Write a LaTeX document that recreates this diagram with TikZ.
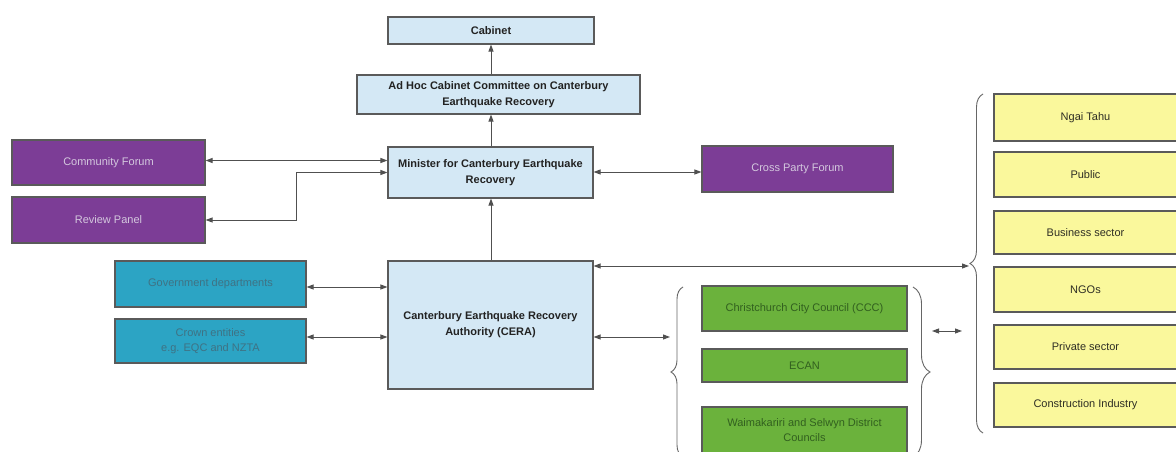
\documentclass[tikz,border=0pt]{standalone}
\usepackage{fontspec}
\setmainfont{Liberation Sans}
\usepackage{tikz}
\usepackage{xcolor}
\usetikzlibrary{arrows.meta,positioning,calc,decorations.pathreplacing}
\definecolor{edgegray}{HTML}{5A5A5A}
\definecolor{arrowgray}{HTML}{505050}
\definecolor{bracegray}{HTML}{666666}
\definecolor{ink}{HTML}{222222}
\definecolor{paleblue}{HTML}{D4E8F5}
\definecolor{plum}{HTML}{7C3D96}
\definecolor{plumtext}{HTML}{D4C8DE}
\definecolor{tealbox}{HTML}{2CA4C4}
\definecolor{tealtext}{HTML}{3F7284}
\definecolor{grassbox}{HTML}{6BB23C}
\definecolor{grasstext}{HTML}{32601F}
\definecolor{lemonbox}{HTML}{FAF89C}
\definecolor{lemontext}{HTML}{2E2E24}
\tikzset{
  bluecard/.style={draw=edgegray,fill=paleblue,line width=1.1pt,align=center,
                   inner sep=2pt,font=\fontsize{11}{16}\selectfont\bfseries,text=ink},
  plumcard/.style={draw=edgegray,fill=plum,line width=1.1pt,align=center,
                   inner sep=2pt,font=\fontsize{11}{15}\selectfont,text=plumtext},
  tealcard/.style={draw=edgegray,fill=tealbox,line width=1.1pt,align=center,
                   inner sep=2pt,font=\fontsize{11}{15}\selectfont,text=tealtext},
  grasscard/.style={draw=edgegray,fill=grassbox,line width=1.1pt,align=center,
                    inner sep=2pt,font=\fontsize{11}{15}\selectfont,text=grasstext},
  lemoncard/.style={draw=edgegray,fill=lemonbox,line width=1.1pt,align=center,
                    inner sep=2pt,font=\fontsize{11}{15}\selectfont,text=lemontext,
                    minimum width=183pt},
  uparr/.style={-{Triangle[length=7pt,width=5pt]},line width=0.9pt,draw=arrowgray},
  dblarr/.style={{Triangle[length=7pt,width=5pt]}-{Triangle[length=7pt,width=5pt]},
                 line width=0.9pt,draw=arrowgray},
  grpbrace/.style={decorate,line width=0.9pt,draw=bracegray}
}
\begin{document}
\begin{tikzpicture}[x=1pt,y=-1pt]
    \path[use as bounding box,fill=white] (0,0) rectangle (1176,452);
    % central chain
    \node[bluecard,minimum width=206pt,minimum height=27pt] (cabinet) at (491,30.5) {Cabinet};
    \node[bluecard,minimum width=283pt,minimum height=39pt] (adhoc) at (498.5,94.5)
      {Ad Hoc Cabinet Committee on Canterbury\\Earthquake Recovery};
    \node[bluecard,minimum width=205pt,minimum height=51pt] (minister) at (490.5,172.5)
      {Minister for Canterbury Earthquake\\Recovery};
    \node[bluecard,minimum width=205pt,minimum height=128pt] (cera) at (490.5,325)
      {Canterbury Earthquake Recovery\\Authority (CERA)};
    % forums
    \node[plumcard,minimum width=193pt,minimum height=45pt] (commforum) at (108.5,162.5) {Community Forum};
    \node[plumcard,minimum width=193pt,minimum height=46pt] (revpanel) at (108.5,220) {Review Panel};
    \node[plumcard,minimum width=191pt,minimum height=46pt] (xparty) at (797.5,169) {Cross Party Forum};
    % government
    \node[tealcard,minimum width=191pt,minimum height=46pt] (govdept) at (210.5,284) {Government departments};
    \node[tealcard,minimum width=191pt,minimum height=44pt] (crown) at (210.5,341)
      {Crown entities\\e.g. EQC and NZTA};
    % councils
    \node[grasscard,minimum width=205pt,minimum height=45pt] (ccc) at (804.5,308.5)
      {Christchurch City Council (CCC)};
    \node[grasscard,minimum width=205pt,minimum height=33pt] (ecan) at (804.5,365.5) {ECAN};
    \node[grasscard,minimum width=205pt,minimum height=46pt] (waimak) at (804.5,430)
      {Waimakariri and Selwyn District\\Councils};
    % stakeholders
    \node[lemoncard,minimum height=47pt] (ngai) at (1085.5,117.5) {Ngai Tahu};
    \node[lemoncard,minimum height=45pt] (public) at (1085.5,174.5) {Public};
    \node[lemoncard,minimum height=43pt] (business) at (1085.5,232.5) {Business sector};
    \node[lemoncard,minimum height=45pt] (ngos) at (1085.5,289.5) {NGOs};
    \node[lemoncard,minimum height=44pt] (private) at (1085.5,347) {Private sector};
    \node[lemoncard,minimum height=44pt] (construct) at (1085.5,405) {Construction Industry};
    % braces
    \draw[grpbrace,decoration={brace,amplitude=12pt}] (683,457) -- (683,287);
    \draw[grpbrace,decoration={brace,amplitude=17pt}] (913,287) -- (913,457);
    \draw[grpbrace,decoration={brace,amplitude=13pt}] (983,433) -- (983,94);
    \coordinate (bigtip) at (969,266);
    \coordinate (grpin) at (670,337);
    \coordinate (grpout) at (932,331);
    \coordinate (lemonin) at (962,331);
    \coordinate (rpbend) at (296,220);
    % connectors
    \draw[uparr] (adhoc.north -| cabinet.south) -- (cabinet.south);
    \draw[uparr] (minister.north -| cabinet.south) -- (adhoc.south -| cabinet.south);
    \draw[uparr] (cera.north -| cabinet.south) -- (minister.south -| cabinet.south);
    \draw[dblarr] ($(commforum.east)+(0,-2)$) -- ($(commforum.east -| minister.west)+(0,-2)$);
    \draw[dblarr] (revpanel.east) -- (rpbend) |- (minister.west);
    \draw[dblarr] (minister.east |- xparty.west) ++(0,3) -- ($(xparty.west)+(0,3)$);
    \draw[dblarr] ($(govdept.east)+(0,3)$) -- ($(govdept.east -| cera.west)+(0,3)$);
    \draw[dblarr] ($(crown.east)+(0,-4)$) -- ($(crown.east -| cera.west)+(0,-4)$);
    \draw[dblarr] (bigtip -| cera.east) -- (bigtip);
    \draw[dblarr] (grpin -| cera.east) -- (grpin);
    \draw[dblarr] (grpout) -- (lemonin);
  \end{tikzpicture}
\end{document}
